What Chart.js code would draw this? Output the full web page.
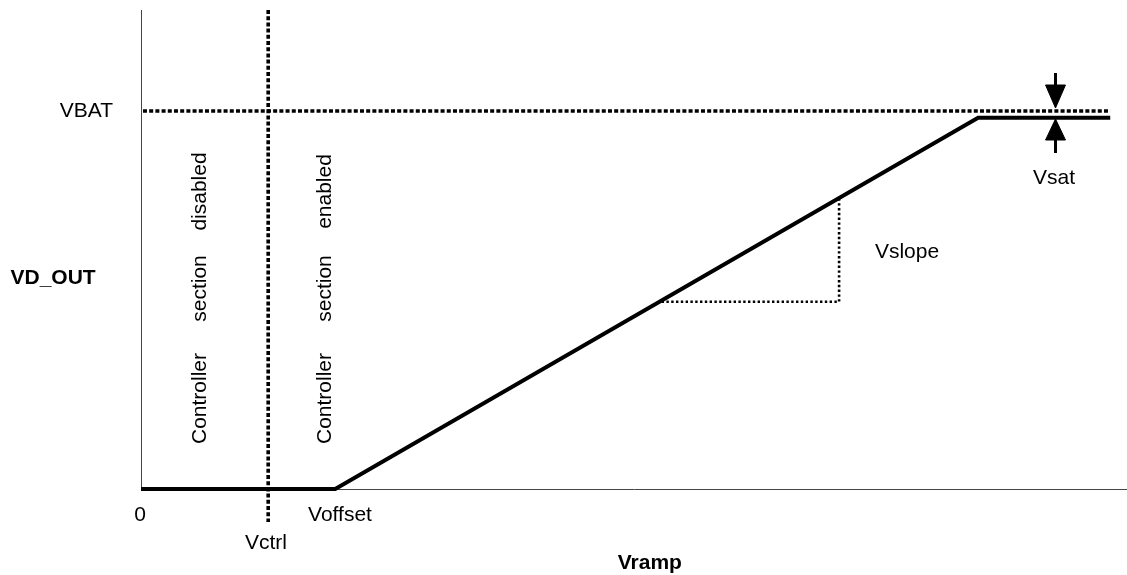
<!DOCTYPE html>
<html>
<head>
<meta charset="utf-8">
<script src="https://cdn.jsdelivr.net/npm/chart.js@4.4.1/dist/chart.umd.min.js"></script>
<style>
html,body{margin:0;padding:0;background:#ffffff;}
canvas{display:block;}
</style>
</head>
<body>
<canvas id="c" width="1127" height="575"></canvas>
<script>
// ---- values (arbitrary normalised units: x 0..100 = Vramp, y 0..100 = VD_OUT) ----
const vOffset = 19.7;      // ramp start
const vCtrl = 12.9;        // controller threshold
const vSatX = 84.9;        // saturation start
const vEndX = 98.3;        // end of drawn curve
const vBat = 78.9;         // battery level
const vSatLevel = 77.5;    // saturated output level

const rampX = [0, vOffset, vSatX, vEndX];
const rampY = [0, 0, vSatLevel, vSatLevel];

const batX = [0.2, vEndX];
const batY = [vBat, vBat];

const ctrlX = [vCtrl, vCtrl];
const ctrlY = [100, -6.9];

const slopeX = [52.8, 70.8, 70.8];
const slopeY = [39.1, 39.1, 60.8];

const arrowX = 92.75;
const arrowTopShaftY = [86.85, 84.3];
const arrowTopHeadX = [91.74, 93.76, 92.75, 91.74];
const arrowTopHeadY = [84.34, 84.34, 79.54, 84.34];
const arrowBotShaftY = [72.9, 70.15];
const arrowBotHeadX = [91.74, 93.76, 92.75, 91.74];
const arrowBotHeadY = [72.86, 72.86, 77.24, 72.86];

// tick / annotation texts
const yTickLabels = ['VBAT'];
const xTickLabels = ['0', 'Vctrl', 'Voffset'];
const yTitle = 'VD_OUT';
const xTitle = 'Vramp';
const slopeLabel = 'Vslope';
const satLabel = 'Vsat';
const disabledWords = ['Controller', 'section', 'disabled'];
const enabledWords = ['Controller', 'section', 'enabled'];

const pts = (xs, ys) => xs.map((x, i) => ({x: x, y: ys[i]}));

const FONT = '"Liberation Sans", Arial, sans-serif';

const textPlugin = {
  id: 'texts',
  afterDatasetsDraw(chart) {
    const ctx = chart.ctx;
    const xs = chart.scales.x, ys = chart.scales.y;
    const X = v => xs.getPixelForValue(v);
    const Y = v => ys.getPixelForValue(v);
    ctx.save();
    ctx.fillStyle = '#000';
    ctx.textBaseline = 'middle';
    const put = (t, x, y, align, bold, size) => {
      ctx.font = (bold ? 'bold ' : '') + size + 'px ' + FONT;
      ctx.textAlign = align;
      ctx.fillText(t, x, y);
    };
    put(yTickLabels[0], X(-2.84), Y(vBat), 'right', false, 21);
    put(xTickLabels[0], X(-0.1), Y(-5.43), 'center', false, 21);
    put(xTickLabels[1], X(vCtrl - 0.22), Y(-11.27), 'center', false, 21);
    put(xTickLabels[2], X(20.18), Y(-5.43), 'center', false, 21);
    put(yTitle, X(-8.92), Y(44.05), 'center', true, 21);
    put(xTitle, X(51.6), Y(-15.45), 'center', true, 21);
    put(slopeLabel, X(77.69), Y(49.48), 'center', false, 21);
    put(satLabel, X(92.6), Y(64.93), 'center', false, 21);
    // rotated words
    const wordY = [18.89, 41.86, 62.11];
    const col = (words, cx) => {
      words.forEach((w, i) => {
        ctx.save();
        ctx.translate(X(cx), Y(wordY[i]));
        ctx.rotate(-Math.PI / 2);
        put(w, 0, 0, 'center', false, 21);
        ctx.restore();
      });
    };
    col(disabledWords, 5.98);
    col(enabledWords, 18.66);
    ctx.restore();
  }
};

const lineDs = (data, extra) => Object.assign({
  data: data,
  showLine: true,
  pointRadius: 0,
  borderColor: '#000',
  backgroundColor: '#000',
  borderWidth: 3,
  clip: false,
  borderJoinStyle: 'miter',
  tension: 0
}, extra);

new Chart(document.getElementById('c'), {
  type: 'scatter',
  data: {
    datasets: [
      lineDs(pts(batX, batY), {borderWidth: 3.6, borderDash: [4, 2.2]}),
      lineDs(pts(ctrlX, ctrlY), {borderWidth: 3.6, borderDash: [4, 2.2]}),
      lineDs(pts(slopeX, slopeY), {borderWidth: 2.6, borderDash: [2.4, 2.4]}),
      lineDs(pts(rampX, rampY), {borderWidth: 4}),
      lineDs(pts([arrowX, arrowX], arrowTopShaftY), {borderWidth: 3}),
      lineDs(pts(arrowTopHeadX, arrowTopHeadY), {borderWidth: 1, fill: 'shape'}),
      lineDs(pts([arrowX, arrowX], arrowBotShaftY), {borderWidth: 3}),
      lineDs(pts(arrowBotHeadX, arrowBotHeadY), {borderWidth: 1, fill: 'shape'})
    ]
  },
  options: {
    responsive: false,
    animation: false,
    devicePixelRatio: 1,
    layout: {padding: {top: 10, right: 0, left: 0, bottom: 0}},
    plugins: {legend: {display: false}, tooltip: {enabled: false}},
    scales: {
      x: {
        type: 'linear', min: 0, max: 100,
        grid: {display: false, drawTicks: false},
        ticks: {display: false},
        border: {display: true, color: '#444', width: 1},
        afterFit: s => { s.height = 86; }
      },
      y: {
        type: 'linear', min: 0, max: 100,
        grid: {display: false, drawTicks: false},
        ticks: {display: false},
        border: {display: true, color: '#444', width: 1},
        afterFit: s => { s.width = 141; }
      }
    }
  },
  plugins: [textPlugin]
});
</script>
</body>
</html>
